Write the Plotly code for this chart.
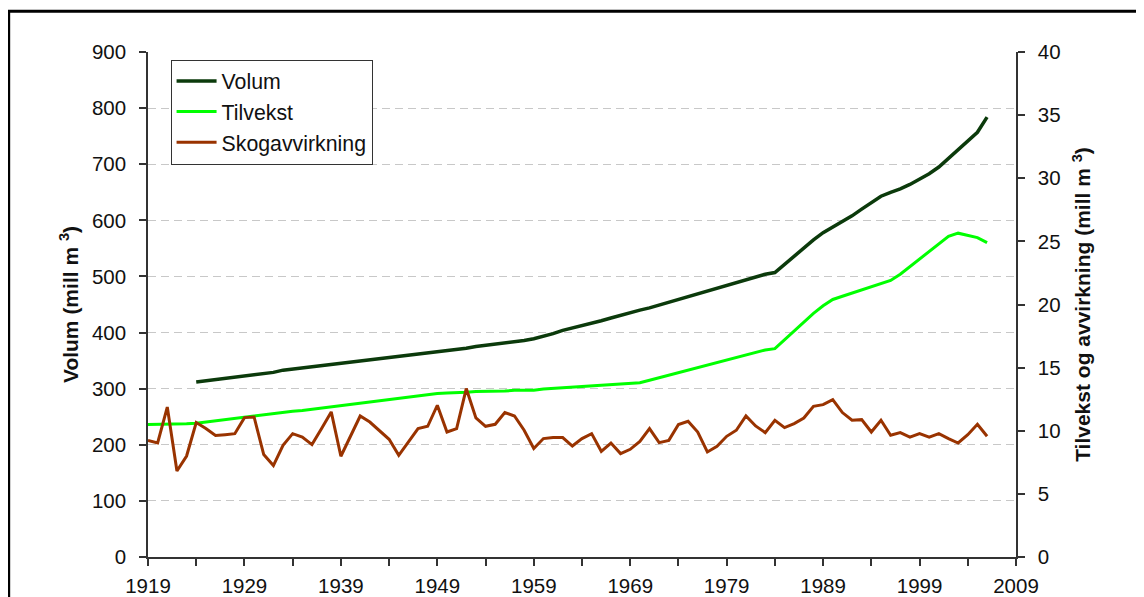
import plotly.graph_objects as go

years_skog = list(range(1919, 2007))
skog = [9.24, 9.03, 11.88, 6.81, 8.0, 10.65, 10.17, 9.62, 9.69, 9.77,
        11.04, 11.09, 8.11, 7.24, 8.85, 9.77, 9.5, 8.9, 10.17, 11.49,
        7.98, 9.64, 11.17, 10.69, 10.04, 9.32, 8.05, 9.16, 10.17, 10.35,
        12.02, 9.9, 10.17, 13.34, 11.01, 10.35, 10.51, 11.44, 11.17, 10.04,
        8.59, 9.38, 9.46, 9.46, 8.79, 9.38, 9.77, 8.37, 9.03, 8.19,
        8.53, 9.16, 10.17, 9.06, 9.24, 10.49, 10.75, 9.9, 8.32, 8.77,
        9.56, 10.04, 11.17, 10.38, 9.85, 10.83, 10.25, 10.57, 11.01, 11.94,
        12.07, 12.47, 11.44, 10.83, 10.88, 9.9, 10.83, 9.64, 9.85, 9.5,
        9.77, 9.5, 9.77, 9.38, 9.03, 9.69, 10.51, 9.56]

years_tilvekst = list(range(1919, 2007))
tilvekst = [10.5, 10.5, 10.5, 10.5, 10.55, 10.6, 10.7, 10.8, 10.9, 11.0,
            11.1, 11.2, 11.3, 11.4, 11.5, 11.55, 11.6, 11.7, 11.8, 11.9,
            12.0, 12.1, 12.2, 12.3, 12.4, 12.5, 12.6, 12.7, 12.8, 12.9,
            12.95, 13.0, 13.0, 13.05, 13.1, 13.1, 13.15, 13.15, 13.2, 13.2,
            13.2, 13.3, 13.35, 13.4, 13.45, 13.5, 13.55, 13.6, 13.7, 13.75,
            13.75, 13.8, 14.0, 14.2, 14.45, 14.6, 14.8, 15.0, 15.2, 15.4,
            15.6, 15.8, 16.0, 16.2, 16.4, 16.5, 17.2, 17.9, 18.6, 19.3,
            19.9, 20.4, 20.65, 20.9, 21.1, 21.4, 21.65, 21.9, 22.4, 23.0,
            23.6, 24.2, 24.8, 25.4, 25.65, 25.5, 25.3, 24.9]

years_volum = list(range(1924, 2007))
volum = [312, 314, 316, 318, 320, 322, 325, 327, 329, 333,
         335, 337, 339, 341, 343, 345, 347, 349, 351, 353,
         355, 357, 359, 361, 363, 365, 367, 369, 372, 375,
         377, 379, 381, 383, 386, 389, 393, 398, 404, 408,
         412, 416, 421, 426, 431, 436, 440, 444, 449, 454,
         458, 463, 468, 473, 478, 484, 488, 493, 499, 504,
         507, 522, 536, 550, 565, 578, 588, 598, 608, 620,
         632, 643, 650, 656, 664, 673, 683, 695, 710, 727,
         740, 757, 784]

x_tickvals = list(range(1919, 2010, 10))
x_minor_ticks = list(range(1924, 2010, 10))
y_left_ticks = list(range(0, 901, 100))
y_right_ticks = list(range(0, 41, 5))

FONT = "Liberation Sans, Arial, sans-serif"
AX = "#333333"

fig = go.Figure()
fig.add_trace(go.Scatter(x=years_volum, y=volum, name="Volum", mode="lines",
                         line=dict(color="#0b3a0b", width=3.5), yaxis="y",
                         legendgroup="a"))
fig.add_trace(go.Scatter(x=years_tilvekst, y=tilvekst, name="Tilvekst", mode="lines",
                         line=dict(color="#00ff00", width=3), yaxis="y2",
                         legendgroup="b"))
fig.add_trace(go.Scatter(x=years_skog, y=skog, name="Skogavvirkning", mode="lines",
                         line=dict(color="#993300", width=3), yaxis="y2",
                         legendgroup="c"))

fig.update_layout(
    width=1144, height=597,
    margin=dict(l=140, r=136, t=44, b=48),
    paper_bgcolor="white", plot_bgcolor="white",
    font=dict(family=FONT, size=20, color="#111111"),
    showlegend=True,
    legend=dict(x=0.026, y=0.985, xanchor="left", yanchor="top",
                bordercolor=AX, borderwidth=1, bgcolor="white",
                font=dict(size=21.3), tracegroupgap=0, itemwidth=40),
    xaxis=dict(range=[1919, 2009], tickvals=x_tickvals,
               ticktext=[str(v) for v in x_tickvals],
               minor=dict(tickvals=x_minor_ticks, ticks="outside", ticklen=7,
                          tickcolor=AX, tickwidth=1.5, showgrid=False),
               showline=True, linecolor=AX, linewidth=1.5, ticks="outside",
               ticklen=7, tickcolor=AX, tickwidth=1.5, showgrid=False,
               zeroline=False, tickfont=dict(size=20.5), ticklabelstandoff=3,
               automargin=False),
    yaxis=dict(range=[0, 900], tickvals=y_left_ticks, showline=True,
               linecolor=AX, linewidth=1.5, ticks="outside", ticklen=7,
               tickcolor=AX, tickwidth=1.5, showgrid=True, gridcolor="#c8c8c8",
               griddash="8px,5px", gridwidth=1.2, zeroline=False,
               tickfont=dict(size=20.5), ticklabelstandoff=9, automargin=False,
               title=dict(text="<b>Volum (mill m <sup>3</sup>)</b>", font=dict(size=21),
                          standoff=8)),
    yaxis2=dict(range=[0, 40], tickvals=y_right_ticks, overlaying="y", side="right",
                showline=True, linecolor=AX, linewidth=1.5, ticks="outside",
                ticklen=7, tickcolor=AX, tickwidth=1.5, showgrid=False,
                zeroline=False, tickfont=dict(size=20.5), ticklabelstandoff=9,
                automargin=False,
                title=dict(text="<b>Tilvekst og avvirkning (mill m <sup>3</sup>)</b>",
                           font=dict(size=21), standoff=16)),
    shapes=[dict(type="rect", xref="paper", yref="paper",
                 x0=-0.1605, x1=1.16, y0=-0.12, y1=1.0806,
                 line=dict(color="black", width=3), fillcolor="rgba(0,0,0,0)",
                 layer="below")],
)

fig.write_html("out.html")
